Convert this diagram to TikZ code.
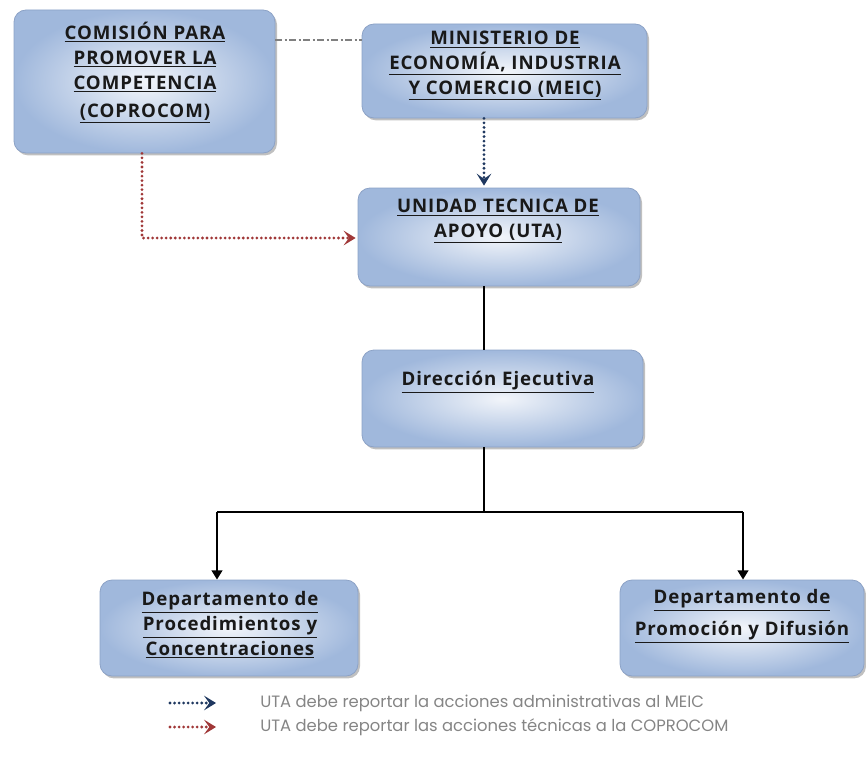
\documentclass[tikz,border=0pt]{standalone}
\usepackage{fontspec}
\setmainfont[LetterSpace=5]{Open Sans}
\newfontfamily\legendfont{Poppins}
\usetikzlibrary{shadows,arrows.meta}
\definecolor{boxedge}{RGB}{140,162,198}
\definecolor{boxdark}{RGB}{160,184,220}
\definecolor{boxlight}{RGB}{242,245,250}
\definecolor{navyline}{RGB}{31,56,96}
\definecolor{redline}{RGB}{160,55,55}
\definecolor{txt}{RGB}{25,25,25}
\newcommand{\myul}[1]{\underline{#1}}
\tikzset{
  box/.style={draw=boxedge, line width=0.6pt, rounded corners=9pt,
    inner color=boxlight, outer color=boxdark,
    drop shadow={shadow xshift=1.5pt, shadow yshift=-1.8pt, fill=black!45, opacity=0.55}},
  lbl/.style={anchor=north, align=center, text=txt, font=\bfseries\fontsize{14}{18.75}\selectfont, inner sep=0pt},
  solidarrow/.style={line width=1.8pt, draw=black, -{Triangle[length=7pt,width=8pt]}},
  solidline/.style={line width=1.8pt, draw=black},
  dotline/.style={line width=2.3pt, line cap=round, dash pattern=on 0pt off 3.4pt},
  navydot/.style={dotline, draw=navyline, -{Stealth[length=9pt,width=11pt,inset=4pt,line cap=butt]}},
  reddot/.style={dotline, draw=redline, -{Stealth[length=9pt,width=11pt,inset=4pt,line cap=butt]}},
  dashdot/.style={line width=1pt, draw=black!50, dash pattern=on 5pt off 2pt on 1.5pt off 2pt},
  legtext/.style={anchor=west, text=black!48, font=\legendfont\fontsize{12.3}{13}\selectfont, inner sep=0pt}
}
\begin{document}
\begin{tikzpicture}[x=0.75pt,y=-0.75pt]
\useasboundingbox (0,0) rectangle (866,767);
% boxes
\node[box, minimum width=195.75pt, minimum height=107.25pt] (cop) at (144.5,81.5) {};
\node[box, minimum width=213.75pt, minimum height=70.5pt] (meic) at (504.5,71) {};
\node[box, minimum width=211.5pt, minimum height=73.5pt] (uta) at (499,237) {};
\node[box, minimum width=210.75pt, minimum height=72.75pt] (dir) at (502.5,398.5) {};
\node[box, minimum width=193.5pt, minimum height=72pt] (proc) at (229,628) {};
\node[box, minimum width=183pt, minimum height=72pt] (prom) at (742,628) {};
% labels
\node[lbl] (copt) at (145,22) {\myul{COMISIÓN PARA}\\\myul{PROMOVER LA}\\\myul{COMPETENCIA}\\[2pt]\myul{(COPROCOM)}};
\node[lbl] (meict) at (505,31) {\myul{MINISTERIO DE}\\\myul{ECONOMÍA, INDUSTRIA}\\\myul{Y COMERCIO (MEIC)}};
\node[lbl] (utat) at (498,199) {\myul{UNIDAD TECNICA DE}\\\myul{APOYO (UTA)}};
\node[lbl] (dirt) at (498,371) {\myul{Dirección Ejecutiva}};
\node[lbl] (proct) at (230,591) {\myul{Departamento de}\\\myul{Procedimientos y}\\\myul{Concentraciones}};
\node[lbl, font=\bfseries\fontsize{14}{24}\selectfont] (promt) at (742,589) {\myul{Departamento de}\\\myul{Promoción y Difusión}};
% helper coordinates
\coordinate (spine) at (484,0);
\coordinate (copx) at (142,0);
\coordinate (redy) at (0,238);
\coordinate (dashy) at (0,40);
\coordinate (bary) at (0,512);
\coordinate (procx) at (217,0);
\coordinate (promx) at (743,0);
% connectors
\draw[dashdot] (cop.east |- dashy) -- (meic.west |- dashy);
\draw[navydot] (meic.south -| spine) -- ([yshift=1.5pt]uta.north -| spine);
\draw[reddot] (cop.south -| copx) -- (copx |- redy) -- ([xshift=-1.5pt]uta.west |- redy);
\draw[solidline] (uta.south -| spine) -- (dir.north -| spine);
\draw[solidline] (dir.south -| spine) -- (spine |- bary);
\draw[solidline] (procx |- bary) -- (promx |- bary);
\draw[solidarrow] (procx |- bary) -- (proc.north -| procx);
\draw[solidarrow] (promx |- bary) -- (prom.north -| promx);
% legend
\coordinate (l1a) at (170,703);
\coordinate (l1b) at (216,703);
\coordinate (l2a) at (170,727);
\coordinate (l2b) at (216,727);
\draw[navydot] (l1a) -- (l1b);
\draw[reddot] (l2a) -- (l2b);
\node[legtext] (leg1) at (260,703) {UTA debe reportar la acciones administrativas al MEIC};
\node[legtext] (leg2) at (260,727) {UTA debe reportar las acciones técnicas a la COPROCOM};
\end{tikzpicture}
\end{document}
